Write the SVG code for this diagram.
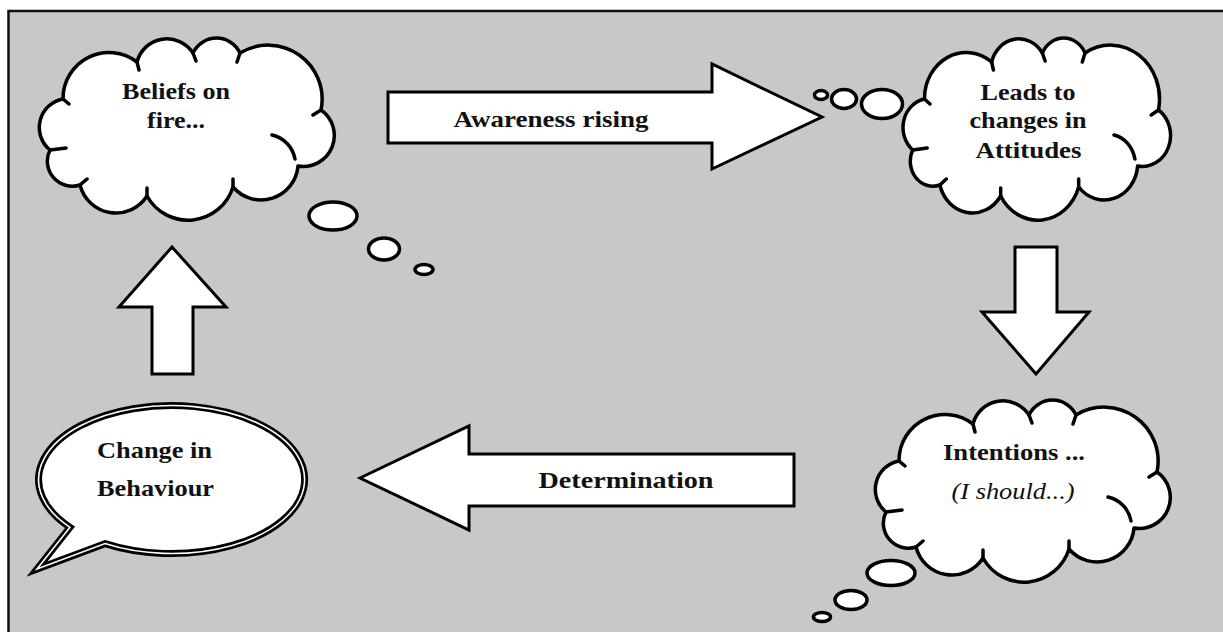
<svg xmlns="http://www.w3.org/2000/svg" xmlns:xlink="http://www.w3.org/1999/xlink" width="1223" height="632" viewBox="0 0 1223 632">
<style>
.frame{fill:#c8c8c8;stroke:#111;stroke-width:2.5}
.cloud{fill:#fff;stroke:#000;stroke-width:3.5;stroke-linejoin:round}
.tick{fill:none;stroke:#000;stroke-width:3.5;stroke-linecap:round}
.bub{fill:#fff;stroke:#000;stroke-width:3.5}
.arrow{fill:#fff;stroke:#000;stroke-width:3;stroke-linejoin:miter}
.t{font-family:"Liberation Serif","Times New Roman",serif;font-size:24px;font-weight:bold;fill:#111;text-anchor:middle}
.ti{font-family:"Liberation Serif","Times New Roman",serif;font-size:24px;font-style:italic;fill:#111;text-anchor:middle}
.tl{font-family:"Liberation Serif","Times New Roman",serif;font-size:24px;font-weight:bold;fill:#111}
</style>
<defs>
<path id="cloud" vector-effect="non-scaling-stroke" d="M27,61 A46,46 0 0 1 101,24 A31,31 0 0 1 157,15 A26,26 0 0 1 204,15 A54,54 0 0 1 285,72 A31,31 0 0 1 262,128 A37,37 0 0 1 197,149 A47,47 0 0 1 111,158 A37,37 0 0 1 44,147 A25,25 0 0 1 14,112 A29,29 0 0 1 27,61 Z"/>
<path id="ticks" vector-effect="non-scaling-stroke" d="M101,24 L103,32 M157,15 L160,23 M204,15 L201,24 M285,72 L277,77 M236,97 A30,30 0 0 1 259,121 M197,149 L197,141 M111,158 L111,150 M44,147 L51,141 M14,112 L30,110 M27,61 L33,66"/>
</defs>
<rect class="frame" x="8.5" y="11" width="1222" height="632"/>
<g id="beliefs">
<use href="#cloud" class="cloud" transform="translate(36,38)"/>
<use href="#ticks" class="tick" transform="translate(36,38)"/>
<ellipse class="bub" cx="333" cy="216" rx="24" ry="14"/>
<ellipse class="bub" cx="384" cy="249" rx="15.5" ry="11"/>
<ellipse class="bub" cx="424" cy="269.5" rx="9" ry="5"/>
<text class="t" x="176" y="99" textLength="108" lengthAdjust="spacingAndGlyphs">Beliefs on</text>
<text class="t" x="176" y="128" textLength="58" lengthAdjust="spacingAndGlyphs">fire...</text>
</g>
<g id="attitudes">
<use href="#cloud" class="cloud" transform="translate(900,38) scale(0.907,1)"/>
<use href="#ticks" class="tick" transform="translate(900,38) scale(0.907,1)"/>
<ellipse class="bub" cx="882" cy="104" rx="20.5" ry="14.5"/>
<ellipse class="bub" cx="844" cy="99" rx="12.5" ry="9.5"/>
<ellipse class="bub" cx="821" cy="95" rx="6.5" ry="4.5"/>
<text class="t" x="1028" y="100" textLength="95" lengthAdjust="spacingAndGlyphs">Leads to</text>
<text class="t" x="1028" y="128" textLength="117" lengthAdjust="spacingAndGlyphs">changes in</text>
<text class="t" x="1028.5" y="158" textLength="106" lengthAdjust="spacingAndGlyphs">Attitudes</text>
</g>
<g id="intentions">
<use href="#cloud" class="cloud" transform="translate(872,400)"/>
<use href="#ticks" class="tick" transform="translate(872,400)"/>
<ellipse class="bub" cx="891" cy="573" rx="24" ry="12.5"/>
<ellipse class="bub" cx="851" cy="600" rx="16" ry="9.5"/>
<ellipse class="bub" cx="822" cy="617" rx="8.5" ry="4.5"/>
<text class="t" x="1014" y="460" textLength="142" lengthAdjust="spacingAndGlyphs">Intentions ...</text>
<text class="ti" x="1013" y="499" textLength="123" lengthAdjust="spacingAndGlyphs">(I should...)</text>
</g>
<g id="behaviour">
<path d="M70,527.3 L37,569 L105,543.6 A133,74 0 1 0 70,527.3 Z" fill="#fff" stroke="#000" stroke-width="7" stroke-linejoin="miter"/>
<path d="M70,527.3 L37,569 L105,543.6 A133,74 0 1 0 70,527.3 Z" fill="none" stroke="#fff" stroke-width="1.6" stroke-linejoin="miter"/>
<text class="tl" x="97" y="458" textLength="115" lengthAdjust="spacingAndGlyphs">Change in</text>
<text class="tl" x="97" y="495.5" textLength="117" lengthAdjust="spacingAndGlyphs">Behaviour</text>
</g>
<g id="connectors">
<g id="awareness">
<polygon class="arrow" points="388,92 712,92 712,64 822,117 712,169 712,143 388,143"/>
<text class="t" x="551" y="127" textLength="195" lengthAdjust="spacingAndGlyphs">Awareness rising</text>
</g>
<g id="determination">
<polygon class="arrow" points="360,478 469,426 469,454 794,454 794,506 469,506 469,530"/>
<text class="t" x="626" y="488" textLength="175" lengthAdjust="spacingAndGlyphs">Determination</text>
</g>
<polygon id="up-arrow" class="arrow" points="172,247 226,307 193,307 193,374 152,374 152,307 119,307"/>
<polygon id="down-arrow" class="arrow" points="1015,247 1057,247 1057,312 1089,312 1036,374 982,312 1015,312"/>
</g>
</svg>
